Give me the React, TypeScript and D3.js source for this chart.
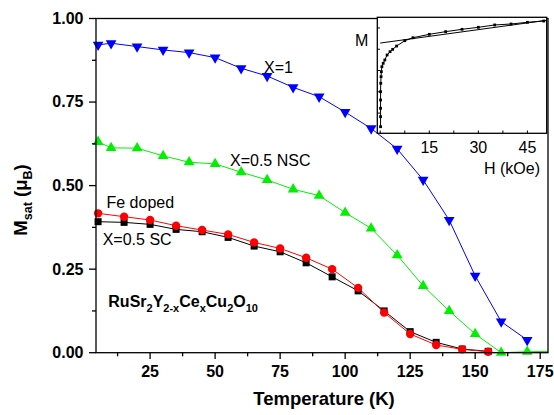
import React from "react";
import * as d3 from "d3";

// main panel: saturation moment vs temperature
const tX1 = [5, 10, 20, 30, 40, 50, 60, 70, 80, 90, 100, 110, 120, 130, 140, 150, 160, 170];
const mX1 = [0.921, 0.926, 0.916, 0.906, 0.898, 0.883, 0.851, 0.828, 0.794, 0.766, 0.72, 0.671, 0.61, 0.517, 0.397, 0.23, 0.093, 0.038];

const tNSC = [5, 10, 20, 30, 40, 50, 60, 70, 80, 90, 100, 110, 120, 130, 140, 150, 160, 170, 180];
const mNSC = [0.631, 0.613, 0.612, 0.589, 0.57, 0.565, 0.54, 0.517, 0.489, 0.47, 0.419, 0.372, 0.292, 0.2, 0.125, 0.056, 0.0, 0.003, 0.004];

const tSC = [5, 15, 25, 35, 45, 55, 65, 75, 85, 95, 105, 115, 125, 135, 145, 155];
const mSC = [0.392, 0.39, 0.384, 0.369, 0.362, 0.345, 0.319, 0.302, 0.269, 0.227, 0.185, 0.125, 0.063, 0.031, 0.011, 0.004];
const mFe = [0.417, 0.407, 0.397, 0.38, 0.367, 0.354, 0.33, 0.312, 0.284, 0.25, 0.194, 0.12, 0.056, 0.023, 0.01, 0.003];

const xTicks = [25, 50, 75, 100, 125, 150, 175];
const xMinor = [12.5, 37.5, 62.5, 87.5, 112.5, 137.5, 162.5];
const yTicks = [0, 0.25, 0.5, 0.75, 1.0];
const yMinor = [0.125, 0.375, 0.625, 0.875];

// inset: M vs H
const insetH = [0.1, 0.1, 0.1, 0.1, 0.1, 0.15, 0.25, 0.35, 0.5, 0.9, 1.4, 2.1, 3.0, 3.8, 5.0, 7.5, 10, 15, 20, 25, 30, 35, 40, 45, 50];
const insetM = [0.072, 0.166, 0.245, 0.323, 0.401, 0.48, 0.542, 0.589, 0.636, 0.668, 0.699, 0.746, 0.777, 0.799, 0.83, 0.88, 0.908, 0.94, 0.965, 0.987, 1.006, 1.028, 1.037, 1.053, 1.065];
const fitH = [0, 50.9];
const fitM = [0.858, 1.072];
const insetXTicks = [0, 7.5, 15, 22.5, 30, 37.5, 45];
const insetXLabels = [15, 30, 45];
const insetYTicks = [0.2, 0.4, 0.6, 0.8, 1.0];

const FONT = "'Liberation Sans', Arial, Helvetica, sans-serif";

const zip = (a: number[], b: number[]) => a.map((v, i) => [v, b[i]] as [number, number]);

export default function App() {
  const x = d3.scaleLinear().domain([4.2, 178]).range([96, 548]);
  const y = d3.scaleLinear().domain([0, 1]).range([352.7, 18.5]);

  const line = d3
    .line<[number, number]>()
    .x((d) => x(d[0]))
    .y((d) => y(d[1]));

  const ix = d3.scaleLinear().domain([-0.9, 50.9]).range([377.3, 546.7]);
  const iy = d3.scaleLinear().domain([0.01, 1.1]).range([133.3, 17.3]);
  const iline = d3
    .line<[number, number]>()
    .x((d) => ix(d[0]))
    .y((d) => iy(d[1]));

  const tri = d3.symbol().type(d3.symbolTriangle).size(50)() as string;

  const series = [
    { t: tSC, m: mSC, color: "#000000", mark: "square" },
    { t: tSC, m: mFe, color: "#ff0000", mark: "circle" },
    { t: tNSC, m: mNSC, color: "#00f000", mark: "up" },
    { t: tX1, m: mX1, color: "#0000ff", mark: "down" },
  ];

  const [xmin, xmax] = x.domain();

  return (
    <svg
      width={554}
      height={415}
      style={{ position: "absolute", left: 0, top: 0, background: "#fff" }}
      fontFamily={FONT}
    >
      <defs>
        <clipPath id="plotClip">
          <rect x={96} y={18.5} width={452} height={334.2} />
        </clipPath>
      </defs>

      {/* series */}
      <g clipPath="url(#plotClip)">
        {series.map((s, i) => (
          <path key={i} d={line(zip(s.t, s.m)) || ""} fill="none" stroke={s.color} strokeWidth={1} />
        ))}
      </g>
      {series.map((s, i) => (
        <g key={"m" + i} fill={s.color}>
          {zip(s.t, s.m)
            .filter((d) => d[0] >= xmin && d[0] <= xmax)
            .map((d, j) => {
              const cx = x(d[0]);
              const cy = y(d[1]);
              if (s.mark === "square") return <rect key={j} x={cx - 3.5} y={cy - 3.5} width={7} height={7} />;
              if (s.mark === "circle") return <circle key={j} cx={cx} cy={cy} r={4.2} />;
              if (s.mark === "up") return <path key={j} d={tri} transform={`translate(${cx},${cy})`} />;
              return <path key={j} d={tri} transform={`translate(${cx},${cy}) rotate(180)`} />;
            })}
        </g>
      ))}

      {/* frame */}
      <rect x={96} y={18.5} width={452} height={334.2} fill="none" stroke="#000" strokeWidth={1.3} />

      {/* x axis ticks */}
      {xTicks.map((t) => (
        <g key={"xt" + t}>
          <line x1={x(t)} x2={x(t)} y1={352.7} y2={359} stroke="#000" strokeWidth={1.3} />
          <text x={x(t)} y={377.3} textAnchor="middle" fontSize={16} fontWeight="bold">
            {t}
          </text>
        </g>
      ))}
      {xMinor.map((t) => (
        <line key={"xm" + t} x1={x(t)} x2={x(t)} y1={352.7} y2={356.3} stroke="#000" strokeWidth={1.3} />
      ))}

      {/* y axis ticks */}
      {yTicks.map((v) => (
        <g key={"yt" + v}>
          <line x1={89} x2={96} y1={y(v)} y2={y(v)} stroke="#000" strokeWidth={1.3} />
          <text x={83.5} y={y(v) + 5.4} textAnchor="end" fontSize={16} fontWeight="bold">
            {v.toFixed(2)}
          </text>
        </g>
      ))}
      {yMinor.map((v) => (
        <line key={"ym" + v} x1={92} x2={96} y1={y(v)} y2={y(v)} stroke="#000" strokeWidth={1.3} />
      ))}

      {/* axis titles */}
      <text x={324} y={405} textAnchor="middle" fontSize={18.5} fontWeight="bold">
        Temperature (K)
      </text>
      <text transform="translate(27,200) rotate(-90)" textAnchor="middle" fontSize={18.5} fontWeight="bold">
        M
        <tspan fontSize={12.5} dy={5}>sat</tspan>
        <tspan dy={-5}> (</tspan>
        <tspan>μ</tspan>
        <tspan fontSize={12.5} dy={5}>B</tspan>
        <tspan dy={-5}>)</tspan>
      </text>

      {/* annotations */}
      <text x={264} y={72.5} fontSize={16}>X=1</text>
      <text x={230} y={165.7} fontSize={16}>X=0.5 NSC</text>
      <text x={106.5} y={208.3} fontSize={16}>Fe doped</text>
      <text x={102.7} y={245} fontSize={16}>X=0.5 SC</text>
      <text x={108.3} y={307.3} fontSize={16} fontWeight="bold">
        RuSr<tspan fontSize={11} dy={5}>2</tspan>
        <tspan dy={-5}>Y</tspan>
        <tspan fontSize={11} dy={5}>2-x</tspan>
        <tspan dy={-5}>Ce</tspan>
        <tspan fontSize={11} dy={5}>x</tspan>
        <tspan dy={-5}>Cu</tspan>
        <tspan fontSize={11} dy={5}>2</tspan>
        <tspan dy={-5}>O</tspan>
        <tspan fontSize={11} dy={5}>10</tspan>
      </text>

      {/* inset */}
      <rect x={377.3} y={17.3} width={169.4} height={116} fill="#fff" stroke="#000" strokeWidth={1.3} />
      <path d={iline(zip(fitH, fitM)) || ""} fill="none" stroke="#000" strokeWidth={1} />
      <path d={iline(zip(insetH, insetM)) || ""} fill="none" stroke="#000" strokeWidth={1} />
      {zip(insetH, insetM).map((d, j) => (
        <rect key={"ip" + j} x={ix(d[0]) - 1.4} y={iy(d[1]) - 1.4} width={2.8} height={2.8} fill="#000" />
      ))}
      {insetXTicks.map((t) => (
        <line key={"ixt" + t} x1={ix(t)} x2={ix(t)} y1={133.3} y2={130.5} stroke="#000" strokeWidth={1} />
      ))}
      {insetYTicks.map((v) => (
        <line key={"iyt" + v} x1={377.3} x2={380} y1={iy(v)} y2={iy(v)} stroke="#000" strokeWidth={1} />
      ))}
      {insetXLabels.map((t) => (
        <text key={"ixl" + t} x={ix(t)} y={153} textAnchor="middle" fontSize={16}>
          {t}
        </text>
      ))}
      <text x={484} y={174} fontSize={16}>H (kOe)</text>
      <text x={355} y={46} fontSize={16}>M</text>
    </svg>
  );
}
